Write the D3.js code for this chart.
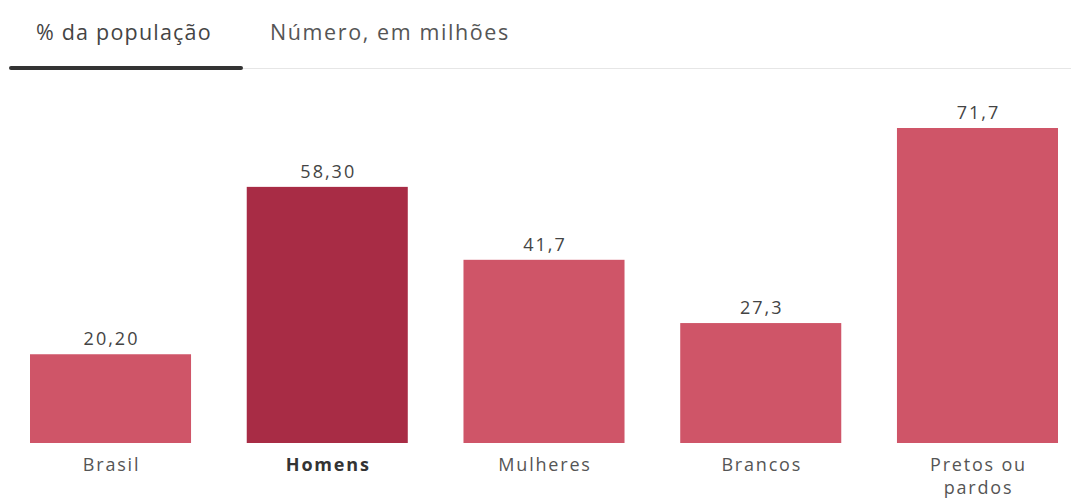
<!DOCTYPE html>
<html>
<head>
<meta charset="utf-8">
<script src="https://cdn.jsdelivr.net/npm/d3@7"></script>
<style>
  html, body { margin: 0; padding: 0; background: #fff; }
  svg { display: block; font-family: "Open Sans", "Noto Sans", sans-serif; }
</style>
</head>
<body>
<svg id="chart" width="1071" height="503"></svg>
<script>
const categories = ["Brasil", "Homens", "Mulheres", "Brancos", "Pretos ou pardos"];
const values = [20.2, 58.3, 41.7, 27.3, 71.7];
const valueLabels = ["20,20", "58,30", "41,7", "27,3", "71,7"];
const highlighted = ["Homens"];
const tabs = ["% da população", "Número, em milhões"];

const svg = d3.select("#chart");

// Tabs
const tabX = [36, 270];
svg.selectAll("text.tab").data(tabs).join("text")
  .attr("class", "tab")
  .attr("x", (d, i) => tabX[i])
  .attr("y", 40)
  .attr("font-size", 21.5)
  .attr("letter-spacing", (d, i) => i === 0 ? 1.2 : 1.6)
  .attr("fill", (d, i) => i === 0 ? "#444" : "#555")
  .text(d => d);
svg.append("line").attr("x1", 243).attr("x2", 1071).attr("y1", 68.5).attr("y2", 68.5)
  .attr("stroke", "#e6e6e6").attr("stroke-width", 1);
svg.append("rect").attr("x", 9).attr("y", 66).attr("width", 234).attr("height", 4)
  .attr("rx", 2).attr("fill", "#333");

// Scales
const x = d3.scaleBand().domain(categories).range([30, 1058]).paddingInner(0.257).paddingOuter(0);
const y = d3.scaleLinear().domain([0, 71.7]).range([443, 128]);

const data = categories.map((c, i) => ({ c, v: values[i], label: valueLabels[i] }));

svg.selectAll("rect.bar").data(data).join("rect")
  .attr("class", "bar")
  .attr("x", d => x(d.c))
  .attr("y", d => y(d.v))
  .attr("width", x.bandwidth())
  .attr("height", d => y(0) - y(d.v))
  .attr("fill", d => highlighted.includes(d.c) ? "#a82c45" : "#cf5568");

svg.selectAll("text.val").data(data).join("text")
  .attr("class", "val")
  .attr("x", d => x(d.c) + x.bandwidth() / 2 + 1)
  .attr("y", d => y(d.v) - 9)
  .attr("text-anchor", "middle")
  .attr("font-size", 18)
  .attr("letter-spacing", 2)
  .attr("fill", "#444")
  .text(d => d.label);

// Category axis labels
const xAxis = d3.axisBottom(x).tickSize(0).tickPadding(0);
const g = svg.append("g").attr("transform", `translate(0, ${y(0)})`).call(xAxis);
g.select(".domain").remove();
g.selectAll(".tick text")
  .attr("font-size", 18)
  .attr("letter-spacing", 1.8)
  .attr("font-family", "\"Open Sans\", \"Noto Sans\", sans-serif")
  .attr("fill", d => highlighted.includes(d) ? "#333" : "#555")
  .attr("font-weight", d => highlighted.includes(d) ? "bold" : "normal")
  .attr("dy", null)
  .attr("y", 28)
  .attr("x", 1)
  .each(function(d) {
    const t = d3.select(this);
    const words = d.split(" ");
    if (words.length > 2) {
      t.text(null);
      t.append("tspan").attr("x", 1).attr("y", 28).text(words.slice(0, 2).join(" "));
      t.append("tspan").attr("x", 1).attr("y", 51).text(words.slice(2).join(" "));
    }
  });
</script>
</body>
</html>
